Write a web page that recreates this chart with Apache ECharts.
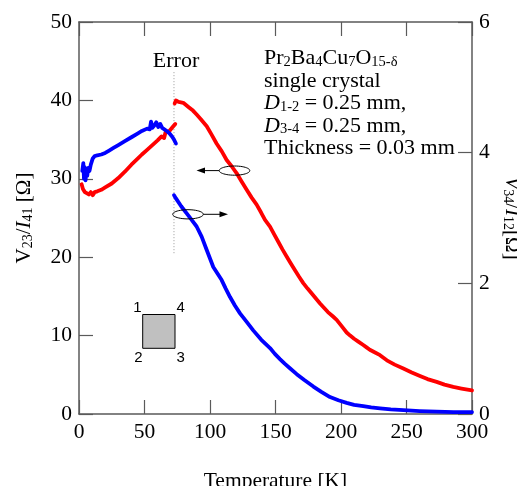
<!DOCTYPE html>
<html>
<head>
<meta charset="utf-8">
<script src="https://cdn.jsdelivr.net/npm/echarts@6/dist/echarts.min.js"></script>
<style>
html,body{margin:0;padding:0;background:#fff;overflow:hidden;}
#chart{width:517px;height:486px;}
</style>
</head>
<body>
<div id="chart"></div>
<script>
// ---- Data ----
var xTicks = [0, 50, 100, 150, 200, 250, 300];
var leftTicks = [0, 10, 20, 30, 40, 50];
var rightTicks = [0, 2, 4, 6];

// V23/I41 (left axis), below the "Error" line
var redLowT = [2, 3, 4.5, 6, 7.5, 9, 10.5, 12, 14, 17, 20, 25, 30, 35, 40, 45, 48, 52, 56, 60, 63, 65, 66, 69, 71.5, 73.5];
var redLowV = [29.3, 28.7, 28.3, 28.5, 28.0, 28.3, 27.9, 28.3, 28.4, 28.6, 28.9, 29.4, 30.1, 30.9, 31.8, 32.6, 33.1, 33.7, 34.3, 34.9, 35.4, 35.2, 35.9, 36.1, 36.6, 37.0];
// V23/I41 (left axis), above the "Error" line
var redHighT = [73, 74, 76, 79.6, 84, 87, 89.8, 93, 97.5, 101, 105, 109, 112.7, 116.5, 120.4, 124, 128, 131.8, 135.6, 139, 142, 145.8, 149, 152, 155.3, 158.5, 161.7, 165, 168, 171.2, 174.5, 178, 181, 184, 187, 190, 193.5, 196.7, 200.5, 204.3, 207, 210, 213.5, 217, 219.5, 222, 226, 229.8, 235, 241, 247.6, 254, 260.3, 266, 273, 279, 285.7, 292, 300];
var redHighV = [39.6, 40.0, 39.8, 39.7, 39.1, 38.7, 38.2, 37.6, 36.7, 35.7, 34.5, 33.5, 32.4, 31.6, 30.7, 29.7, 28.6, 27.6, 26.7, 25.7, 24.75, 23.9, 22.9, 22.0, 21.0, 20.1, 19.2, 18.3, 17.5, 16.7, 16.0, 15.3, 14.7, 14.1, 13.55, 13.0, 12.5, 12.0, 11.2, 10.4, 10.0, 9.6, 9.2, 8.8, 8.5, 8.2, 7.85, 7.5, 6.85, 6.3, 5.8, 5.3, 4.85, 4.45, 4.1, 3.75, 3.45, 3.25, 3.0];
// blue trace below the "Error" line (read on left axis scale)
var blueLowT = [2.5, 3.3, 3.8, 4.3, 5, 5.7, 6.3, 7, 8, 9, 10.5, 12, 14, 17, 20, 23, 26, 30, 35, 40, 45, 48, 52, 54, 55, 56, 57.5, 59, 60.5, 62, 63.5, 65, 67, 69, 71, 72.5, 74];
var blueLowV = [31.0, 32.0, 30.0, 31.5, 29.8, 31.2, 30.4, 31.4, 31.0, 31.8, 32.6, 32.9, 33.0, 33.1, 33.3, 33.6, 33.9, 34.3, 34.8, 35.3, 35.8, 36.1, 36.4, 36.3, 37.3, 36.5, 36.8, 37.2, 36.6, 37.0, 36.5, 36.3, 36.1, 35.8, 35.4, 35.0, 34.5];
// V34/I12 (right axis), above the "Error" line
var blueHighT = [72.5, 74, 78, 82.2, 86, 89.8, 93.7, 97.5, 100, 102.5, 105.7, 108.9, 112, 115.3, 119, 122.9, 128, 133, 139, 145.8, 149.5, 153.4, 157, 161, 166.2, 172, 178.9, 185, 191.6, 198, 204.3, 210, 217, 223, 229.8, 238, 247.6, 260, 273, 286, 300];
var blueHighV = [3.35, 3.30, 3.18, 3.07, 2.97, 2.87, 2.71, 2.51, 2.38, 2.25, 2.15, 2.05, 1.92, 1.79, 1.66, 1.54, 1.41, 1.28, 1.14, 1.01, 0.92, 0.84, 0.77, 0.70, 0.61, 0.52, 0.42, 0.34, 0.26, 0.21, 0.17, 0.14, 0.12, 0.10, 0.085, 0.07, 0.058, 0.045, 0.035, 0.03, 0.03];
// dotted "Error" marker line
var errorLineT = [72.5, 72.5];
var errorLineV = [43.6, 20.5];

function pairs(xs, ys) { return xs.map(function (x, i) { return [x, ys[i]]; }); }

var SERIF = 'Liberation Serif';
var AX = '#5a5a5a';
var chart = echarts.init(document.getElementById('chart'), null, {renderer: 'canvas'});

function ellipsePts(cx, cy, rx, ry) {
  var p = [];
  for (var i = 0; i < 48; i++) {
    var a = i / 48 * Math.PI * 2;
    p.push([cx + rx * Math.cos(a), cy + ry * Math.sin(a)]);
  }
  return p;
}

var lineStyleBase = {width: 3.8, join: 'round', cap: 'round'};
var subStyle = {fontFamily: SERIF, fontSize: 14, lineHeight: 8, verticalAlign: 'bottom', color: '#000'};
var tickStyle = {show: true, inside: true, length: 14, lineStyle: {color: AX, width: 1.2}};
var axLine = {show: true, onZero: false, lineStyle: {color: AX, width: 1.5}};
var tickFont = {fontFamily: SERIF, fontSize: 21.5, color: '#000', margin: 7};

var option = {
  animation: false,
  backgroundColor: '#fff',
  grid: {left: 79, right: 45, top: 22, bottom: 72, containLabel: false, outerBoundsMode: 'none'},
  xAxis: [{
    type: 'value', min: 0, max: 300, interval: 50, position: 'bottom',
    name: 'Temperature [K]', nameLocation: 'middle', nameGap: 56,
    nameTextStyle: {fontFamily: SERIF, fontSize: 21.5, color: '#000'},
    axisLine: axLine,
    axisTick: tickStyle,
    axisLabel: tickFont,
    splitLine: {show: false}
  }, {
    type: 'value', min: 0, max: 300, interval: 50, position: 'top',
    axisLine: axLine,
    axisTick: tickStyle,
    axisLabel: {show: false},
    splitLine: {show: false}
  }],
  yAxis: [{
    type: 'value', min: 0, max: 50, interval: 10, position: 'left',
    name: '{n|V}{s|23}{n|/}{i|I}{s|41}{n| [Ω]}', nameLocation: 'middle', nameGap: 44, nameRotate: 90,
    nameTextStyle: {
      fontFamily: SERIF, fontSize: 21, color: '#000',
      rich: {
        n: {fontFamily: SERIF, fontSize: 21, lineHeight: 22, color: '#000'},
        i: {fontFamily: SERIF, fontSize: 21, lineHeight: 22, fontStyle: 'italic', color: '#000'},
        s: subStyle
      }
    },
    axisLine: axLine,
    axisTick: tickStyle,
    axisLabel: tickFont,
    splitLine: {show: false}
  }, {
    type: 'value', min: 0, max: 6, interval: 2, position: 'right',
    name: '{i|V}{s|34}{n|/}{i|I}{s|12}{n|[Ω]}', nameLocation: 'middle', nameGap: 26, nameRotate: -90,
    nameTextStyle: {
      fontFamily: SERIF, fontSize: 21, color: '#000',
      rich: {
        n: {fontFamily: SERIF, fontSize: 21, lineHeight: 22, color: '#000'},
        i: {fontFamily: SERIF, fontSize: 21, lineHeight: 22, fontStyle: 'italic', color: '#000'},
        s: subStyle
      }
    },
    axisLine: axLine,
    axisTick: tickStyle,
    axisLabel: tickFont,
    splitLine: {show: false}
  }],
  series: [
    {type: 'line', name: 'err', xAxisIndex: 0, yAxisIndex: 0, data: pairs(errorLineT, errorLineV),
      showSymbol: false, lineStyle: {color: '#999', width: 1, type: [1, 2]}, silent: true, z: 1},
    {type: 'line', name: 'redLow', xAxisIndex: 0, yAxisIndex: 0, data: pairs(redLowT, redLowV),
      showSymbol: false, lineStyle: Object.assign({color: '#ff0000'}, lineStyleBase), z: 2},
    {type: 'line', name: 'redHigh', xAxisIndex: 0, yAxisIndex: 0, data: pairs(redHighT, redHighV),
      showSymbol: false, lineStyle: Object.assign({color: '#ff0000'}, lineStyleBase), z: 2},
    {type: 'line', name: 'blueLow', xAxisIndex: 0, yAxisIndex: 0, data: pairs(blueLowT, blueLowV),
      showSymbol: false, lineStyle: Object.assign({color: '#0000ff'}, lineStyleBase), z: 3},
    {type: 'line', name: 'blueHigh', xAxisIndex: 0, yAxisIndex: 1, data: pairs(blueHighT, blueHighV),
      showSymbol: false, lineStyle: Object.assign({color: '#0000ff'}, lineStyleBase), z: 3}
  ],
  graphic: [
    {type: 'text', x: 176, y: 61, z: 10,
      style: {text: 'Error', fontFamily: SERIF, fontSize: 22, fill: '#000', align: 'center', verticalAlign: 'middle'}},
    {type: 'text', x: 264, y: 47, z: 10,
      style: {
        text: 'Pr{s|2}Ba{s|4}Cu{s|7}O{s|15-δ}\nsingle crystal\n{i|D}{s|1-2} = 0.25 mm,\n{i|D}{s|3-4} = 0.25 mm,\nThickness = 0.03 mm',
        fontFamily: SERIF, fontSize: 22, lineHeight: 22.5, fill: '#000', verticalAlign: 'top',
        rich: {
          i: {fontFamily: SERIF, fontSize: 22, lineHeight: 22.5, fontStyle: 'italic', fill: '#000'},
          s: {fontFamily: SERIF, fontSize: 14.5, lineHeight: 8, verticalAlign: 'bottom', fill: '#000'}
        }
      }},
    // ellipse + arrow pointing to left axis (red)
    {type: 'polygon', z: 10, shape: {points: ellipsePts(234.5, 170.6, 15.3, 4.6)},
      style: {fill: 'none', stroke: '#000', lineWidth: 1}},
    {type: 'line', z: 10, shape: {x1: 219, y1: 170.6, x2: 203, y2: 170.6}, style: {stroke: '#000', lineWidth: 1}},
    {type: 'polygon', z: 10, shape: {points: [[196.5, 170.6], [205, 167.6], [205, 173.6]]}, style: {fill: '#000'}},
    // ellipse + arrow pointing to right axis (blue)
    {type: 'polygon', z: 10, shape: {points: ellipsePts(188, 214.3, 15.3, 4.6)},
      style: {fill: 'none', stroke: '#000', lineWidth: 1}},
    {type: 'line', z: 10, shape: {x1: 203.3, y1: 214.3, x2: 221, y2: 214.3}, style: {stroke: '#000', lineWidth: 1}},
    {type: 'polygon', z: 10, shape: {points: [[228, 214.3], [219.5, 211.3], [219.5, 217.3]]}, style: {fill: '#000'}},
    // sample sketch
    {type: 'rect', z: 10, shape: {x: 142.7, y: 314.5, width: 32.3, height: 33.8},
      style: {fill: '#c0c0c0', stroke: '#000', lineWidth: 1}},
    {type: 'text', z: 10, x: 137.3, y: 308.3, style: {text: '1', fontFamily: 'Liberation Sans', fontSize: 15, fill: '#000', align: 'center', verticalAlign: 'middle'}},
    {type: 'text', z: 10, x: 180.7, y: 308.3, style: {text: '4', fontFamily: 'Liberation Sans', fontSize: 15, fill: '#000', align: 'center', verticalAlign: 'middle'}},
    {type: 'text', z: 10, x: 138.3, y: 358.3, style: {text: '2', fontFamily: 'Liberation Sans', fontSize: 15, fill: '#000', align: 'center', verticalAlign: 'middle'}},
    {type: 'text', z: 10, x: 180.7, y: 358.3, style: {text: '3', fontFamily: 'Liberation Sans', fontSize: 15, fill: '#000', align: 'center', verticalAlign: 'middle'}}
  ]
};
chart.setOption(option);
</script>
</body>
</html>
